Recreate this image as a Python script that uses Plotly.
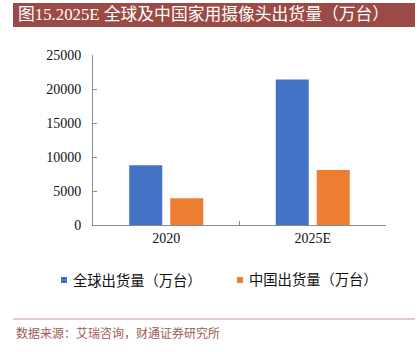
import plotly.graph_objects as go

categories = ["2020", "2025E"]
global_ship = [8800, 21400]
china_ship = [3950, 8100]
series_names = ["全球出货量（万台）", "中国出货量（万台）"]
series_colors = ["#4472C4", "#ED7D31"]
y_ticks = [0, 5000, 10000, 15000, 20000, 25000]

title_text = "图15.2025E 全球及中国家用摄像头出货量（万台）"
source_text = "数据来源：艾瑞咨询，财通证券研究所"

serif = "Liberation Serif, Times New Roman, Noto Sans CJK SC, serif"
cjk = "Liberation Serif, Noto Sans CJK SC, sans-serif"

L, R, T, B = 93, 34, 55, 127
PW, PH = 420 - L - R, 352 - T - B


def px(x):
    return (x - L) / PW


def py(y):
    return (352 - B - y) / PH


fig = go.Figure()
fig.add_trace(go.Bar(x=categories, y=global_ship, name=series_names[0],
                     marker=dict(color=series_colors[0], line=dict(width=0))))
fig.add_trace(go.Bar(x=categories, y=china_ship, name=series_names[1],
                     marker=dict(color=series_colors[1], line=dict(width=0))))

fig.update_layout(
    width=420, height=352,
    margin=dict(l=L, r=R, t=T, b=B),
    paper_bgcolor="white", plot_bgcolor="white",
    barmode="group", bargap=0.44, bargroupgap=0.195,
    showlegend=False,
    font=dict(family=serif, color="#111"),
)
fig.update_xaxes(showline=True, linecolor="#8c8c8c", linewidth=1,
                 ticks="inside", ticklen=4, tickcolor="#8c8c8c",
                 tickson="boundaries", tickfont=dict(family=serif, size=14, color="#111"),
                 showgrid=False)
fig.update_yaxes(range=[0, 25000], tickvals=y_ticks, tickformat="d", showline=True,
                 linecolor="#8c8c8c", linewidth=1, ticks="inside", ticklen=4,
                 tickcolor="#8c8c8c", tickfont=dict(family=serif, size=14, color="#111"),
                 showgrid=False, zeroline=False, ticklabelstandoff=8)

# Title banner
fig.add_shape(type="rect", xref="paper", yref="paper",
              x0=px(13), x1=px(415), y0=py(27), y1=py(3),
              fillcolor="#9B4A46", line=dict(width=0), layer="below")
fig.add_annotation(text=title_text, xref="paper", yref="paper",
                   x=px(16), y=py(15), xanchor="left", yanchor="middle",
                   showarrow=False, font=dict(family=cjk, size=16.8, color="white"))

# Legend (keys + labels)
legend_x = [61, 237]
for name, color, lx in zip(series_names, series_colors, legend_x):
    fig.add_shape(type="rect", xref="paper", yref="paper",
                  x0=px(lx), x1=px(lx + 6), y0=py(283), y1=py(277),
                  fillcolor=color, line=dict(width=0))
    fig.add_annotation(text=name, xref="paper", yref="paper",
                       x=px(lx + 10), y=py(280), xanchor="left", yanchor="middle",
                       showarrow=False, font=dict(family=cjk, size=14.3, color="#111"))

# Bottom rule and source
fig.add_shape(type="line", xref="paper", yref="paper",
              x0=px(13), x1=px(415), y0=py(319), y1=py(319),
              line=dict(color="#C49A98", width=1.2))
fig.add_annotation(text=source_text, xref="paper", yref="paper",
                   x=px(14), y=py(333), xanchor="left", yanchor="middle",
                   showarrow=False, font=dict(family=cjk, size=12, color="#A05A58"))

fig.write_html("out.html")
